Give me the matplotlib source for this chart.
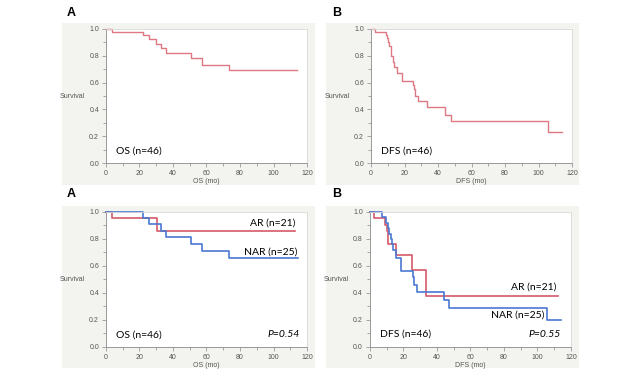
import matplotlib
matplotlib.use("Agg")
import matplotlib.pyplot as plt
from matplotlib.patches import Rectangle
from matplotlib.ticker import MultipleLocator, FormatStrFormatter

plt.rcParams['font.family'] = ['Lato', 'DejaVu Sans']

# top row: whole cohort (n=46)
os_t = [0, 3.8, 22.3, 25.7, 29.9, 32.6, 35.8, 50.9, 57.5, 73.2, 114.2]
os_s = [1.0, 0.978, 0.956, 0.924, 0.891, 0.858, 0.818, 0.78, 0.735, 0.694, 0.694]

dfs_t = [0, 2.4, 8.8, 9.6, 10.3, 10.9, 11.7, 13.1, 13.9, 15.7, 18.3, 25.3, 25.9,
         26.5, 28.3, 33.4, 44.4, 47.8, 105.9, 114.2]
dfs_s = [1.0, 0.978, 0.955, 0.93, 0.90, 0.87, 0.80, 0.75, 0.72, 0.67, 0.61, 0.58,
         0.55, 0.50, 0.46, 0.415, 0.36, 0.31, 0.23, 0.23]

# bottom row: AR vs NAR
os_ar_t = [0, 3.8, 30.2, 112.8]
os_ar_s = [1.0, 0.953, 0.857, 0.857]
os_nar_t = [0, 22.3, 25.7, 32.6, 35.8, 50.9, 57.5, 73.2, 114.4]
os_nar_s = [1.0, 0.956, 0.909, 0.86, 0.812, 0.763, 0.711, 0.659, 0.659]

dfs_ar_t = [0, 2.5, 9.0, 10.0, 10.8, 15.3, 25.2, 33.3, 112.0]
dfs_ar_s = [1.0, 0.952, 0.905, 0.857, 0.76, 0.684, 0.57, 0.38, 0.38]
dfs_nar_t = [0, 7.3, 9.5, 10.8, 11.5, 12.5, 13.0, 14.0, 15.5, 18.5, 25.5, 26.3,
             28.0, 44.0, 47.5, 105.5, 114.0]
dfs_nar_s = [1.0, 0.96, 0.92, 0.88, 0.84, 0.80, 0.76, 0.72, 0.66, 0.56, 0.52, 0.46,
             0.41, 0.35, 0.29, 0.20, 0.20]

red_top = '#e07884'
red = '#d65a6a'
blue = '#4a78d2'
tick_c = '#555555'
arial = ['Liberation Sans', 'DejaVu Sans']

fig = plt.figure(figsize=(6.4, 3.84), dpi=100)

# grey panel backgrounds
for x0, y0 in [(0.097, 0.518), (0.509, 0.518), (0.097, 0.042), (0.509, 0.042)]:
    fig.patches.append(Rectangle((x0, y0), 0.3953, 0.4221, transform=fig.transFigure,
                                 facecolor='#f3f3f0', edgecolor='none', zorder=-1))


def km_axes(rect, xlabel):
    ax = fig.add_axes(rect)
    ax.set_xlim(0, 120)
    ax.set_ylim(0, 1.0)
    ax.xaxis.set_major_locator(MultipleLocator(20))
    ax.xaxis.set_minor_locator(MultipleLocator(10))
    ax.yaxis.set_major_locator(MultipleLocator(0.2))
    ax.yaxis.set_minor_locator(MultipleLocator(0.1))
    ax.yaxis.set_major_formatter(FormatStrFormatter('%.1f'))
    ax.tick_params(which='both', direction='out', colors='#999999', labelcolor=tick_c,
                   labelsize=5, width=0.6, pad=2)
    ax.tick_params(which='major', length=3)
    ax.tick_params(which='minor', length=2)
    for lab in ax.get_xticklabels() + ax.get_yticklabels():
        lab.set_family(arial)
    for s in ['left', 'bottom']:
        ax.spines[s].set_color('#999999')
        ax.spines[s].set_linewidth(0.7)
    for s in ['top', 'right']:
        ax.spines[s].set_color('#d8d8d8')
        ax.spines[s].set_linewidth(0.6)
    ax.set_xlabel(xlabel, fontsize=5, color=tick_c, labelpad=1, family=arial)
    ax.set_ylabel('Survival', fontsize=5, color=tick_c, rotation=0, ha='right',
                  va='center', labelpad=3, family=arial)
    ax.patch.set_facecolor('white')
    return ax


w, h_top, h_bot = 0.3141, 0.349, 0.3516
fs = 7.5

ax1 = km_axes([0.1656, 0.5755, w, h_top], 'OS (mo)')
ax1.step(os_t, os_s, where='post', color=red_top, lw=1.0, clip_on=False)
ax1.text(5.8, 0.09, 'OS (n=46)', fontsize=fs, va='center', ha='left')

ax2 = km_axes([0.5797, 0.5755, w, h_top], 'DFS (mo)')
ax2.step(dfs_t, dfs_s, where='post', color=red_top, lw=1.0, clip_on=False)
ax2.text(5.8, 0.09, 'DFS (n=46)', fontsize=fs, va='center', ha='left')

ax3 = km_axes([0.1656, 0.0964, w, h_bot], 'OS (mo)')
ax3.step(os_ar_t, os_ar_s, where='post', color=red, lw=1.2, clip_on=False)
ax3.step(os_nar_t, os_nar_s, where='post', color=blue, lw=1.2, clip_on=False)
ax3.text(113, 0.92, 'AR (n=21)', fontsize=fs, va='center', ha='right')
ax3.text(114.5, 0.70, 'NAR (n=25)', fontsize=fs, va='center', ha='right')
ax3.text(5.8, 0.09, 'OS (n=46)', fontsize=fs, va='center', ha='left')
ax3.text(115.5, 0.09, 'P=0.54', fontsize=fs, va='center', ha='right', style='italic')

ax4 = km_axes([0.578, 0.0964, w, h_bot], 'DFS (mo)')
ax4.step(dfs_ar_t, dfs_ar_s, where='post', color=red, lw=1.2, clip_on=False)
ax4.step(dfs_nar_t, dfs_nar_s, where='post', color=blue, lw=1.2, clip_on=False)
ax4.text(111.5, 0.44, 'AR (n=21)', fontsize=fs, va='center', ha='right')
ax4.text(104, 0.24, 'NAR (n=25)', fontsize=fs, va='center', ha='right')
ax4.text(6.3, 0.095, 'DFS (n=46)', fontsize=fs, va='center', ha='left')
ax4.text(113.7, 0.09, 'P=0.55', fontsize=fs, va='center', ha='right', style='italic')

# panel letters
for x, y, s in [(0.104, 0.967, 'A'), (0.519, 0.967, 'B'),
                (0.104, 0.496, 'A'), (0.519, 0.496, 'B')]:
    fig.text(x, y, s, fontsize=9, fontweight='bold', va='center', ha='left',
             family=arial)

fig.savefig('out.png', dpi=100)
